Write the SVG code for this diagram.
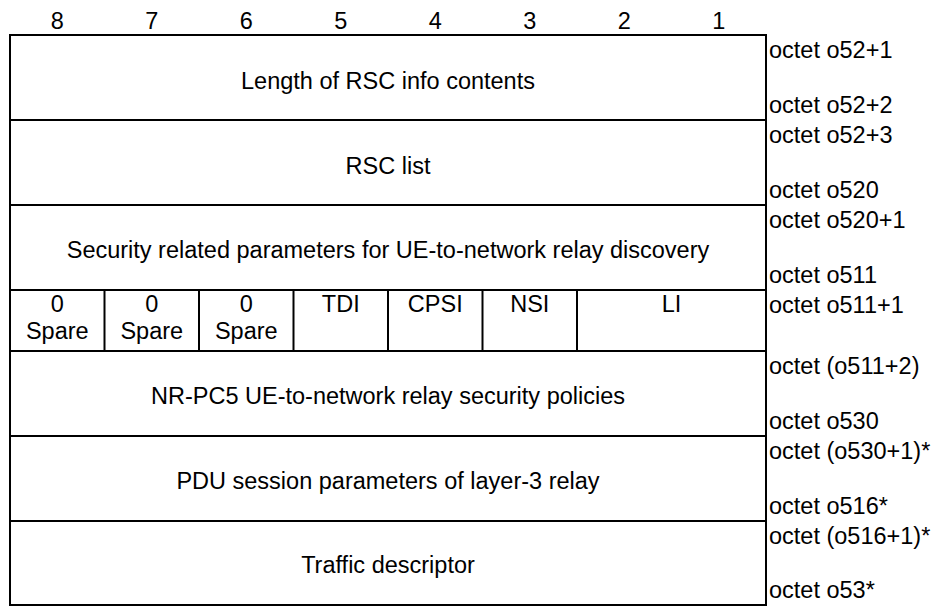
<svg xmlns="http://www.w3.org/2000/svg" width="939" height="608" viewBox="0 0 939 608">
<style>
text{font-family:"Liberation Sans",Arial,sans-serif;font-size:23.5px;fill:#000}
.c{text-anchor:middle}
.ln{stroke:#000;stroke-width:2;fill:none}
</style>
<rect width="939" height="608" fill="#fff"/>
<g id="header">
<text class="c" x="57.25" y="29">8</text>
<text class="c" x="151.75" y="29">7</text>
<text class="c" x="246.25" y="29">6</text>
<text class="c" x="340.75" y="29">5</text>
<text class="c" x="435.25" y="29">4</text>
<text class="c" x="529.75" y="29">3</text>
<text class="c" x="624.25" y="29">2</text>
<text class="c" x="718.75" y="29">1</text>
</g>
<g id="connectors">
<rect class="ln" x="10" y="35" width="756" height="570"/>
<line class="ln" x1="10" y1="120" x2="766" y2="120"/>
<line class="ln" x1="10" y1="205" x2="766" y2="205"/>
<line class="ln" x1="10" y1="290" x2="766" y2="290"/>
<line class="ln" x1="10" y1="351" x2="766" y2="351"/>
<line class="ln" x1="10" y1="436" x2="766" y2="436"/>
<line class="ln" x1="10" y1="521" x2="766" y2="521"/>
<line class="ln" x1="104.5" y1="290" x2="104.5" y2="351"/>
<line class="ln" x1="199" y1="290" x2="199" y2="351"/>
<line class="ln" x1="293.5" y1="290" x2="293.5" y2="351"/>
<line class="ln" x1="388" y1="290" x2="388" y2="351"/>
<line class="ln" x1="482.5" y1="290" x2="482.5" y2="351"/>
<line class="ln" x1="577" y1="290" x2="577" y2="351"/>
</g>
<g id="row1">
<text class="c" x="388" y="89">Length of RSC info contents</text>
<text x="769" y="58">octet o52+1</text>
<text x="769" y="113">octet o52+2</text>
</g>
<g id="row2">
<text class="c" x="388" y="174">RSC list</text>
<text x="769" y="143">octet o52+3</text>
<text x="769" y="198">octet o520</text>
</g>
<g id="row3">
<text class="c" x="388" y="258">Security related parameters for UE-to-network relay discovery</text>
<text x="769" y="228">octet o520+1</text>
<text x="769" y="283">octet o511</text>
</g>
<g id="row4">
<text class="c" x="57.25" y="312">0</text>
<text class="c" x="57.25" y="339">Spare</text>
<text class="c" x="151.75" y="312">0</text>
<text class="c" x="151.75" y="339">Spare</text>
<text class="c" x="246.25" y="312">0</text>
<text class="c" x="246.25" y="339">Spare</text>
<text class="c" x="340.75" y="312">TDI</text>
<text class="c" x="435.25" y="312">CPSI</text>
<text class="c" x="529.75" y="312">NSI</text>
<text class="c" x="671.5" y="312">LI</text>
<text x="769" y="313">octet o511+1</text>
</g>
<g id="row5">
<text class="c" x="388" y="404">NR-PC5 UE-to-network relay security policies</text>
<text x="769" y="374">octet (o511+2)</text>
<text x="769" y="429">octet o530</text>
</g>
<g id="row6">
<text class="c" x="388" y="489">PDU session parameters of layer-3 relay</text>
<text x="769" y="459">octet (o530+1)*</text>
<text x="769" y="514">octet o516*</text>
</g>
<g id="row7">
<text class="c" x="388" y="573">Traffic descriptor</text>
<text x="769" y="544">octet (o516+1)*</text>
<text x="769" y="598">octet o53*</text>
</g>
</svg>
